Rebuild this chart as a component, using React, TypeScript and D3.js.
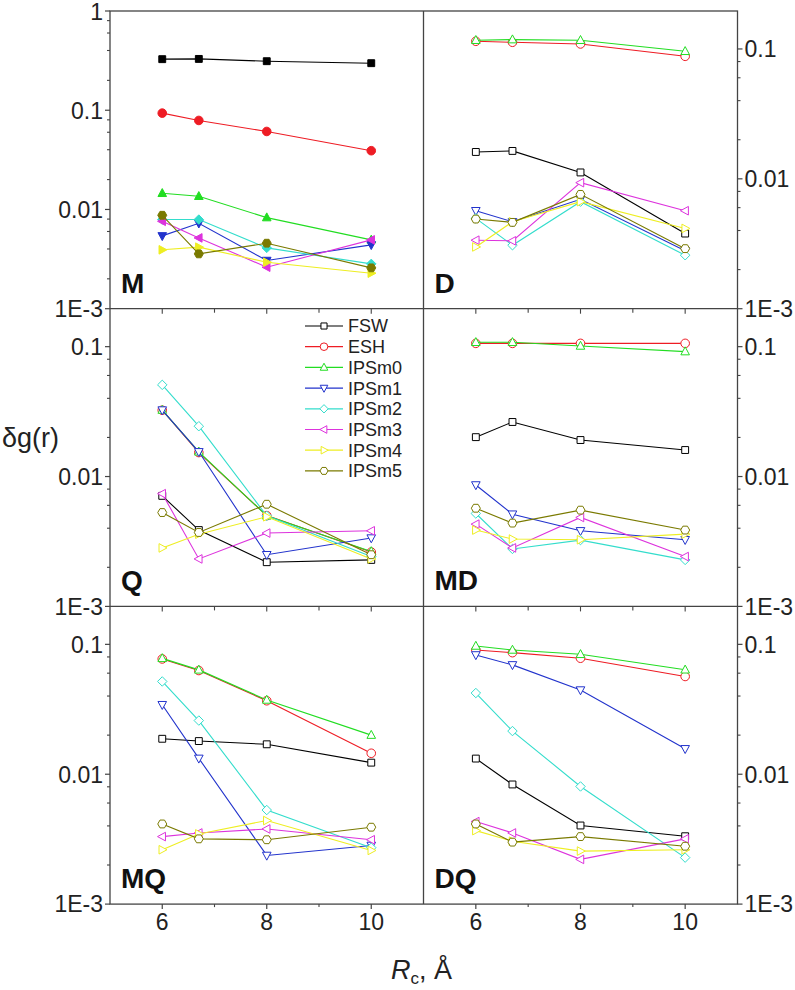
import React from 'react';
import * as d3 from 'd3';

const rc = [6, 6.7, 8, 10];
const seriesNames = ['FSW', 'ESH', 'IPSm0', 'IPSm1', 'IPSm2', 'IPSm3', 'IPSm4', 'IPSm5'];
const seriesColors = ['#000000', '#ee1c24', '#22dd22', '#2233cc', '#33ddcc', '#dd33dd', '#eeee22', '#7a7a00'];
const seriesShapes = ['square', 'circle', 'up', 'down', 'diamond', 'left', 'right', 'hexagon'];

const xTicksMajor = [6, 8, 10];
const xTicksMinor = [7, 9];
const yTicksMajor = [1, 0.1, 0.01, 0.001];
const yTickLabels = ['1', '0.1', '0.01', '1E-3'];

const valuesM = [
  [0.327, 0.329, 0.312, 0.298],
  [0.0935, 0.0789, 0.0611, 0.0391],
  [0.01455, 0.01358, 0.00828, 0.00494],
  [0.00542, 0.00726, 0.00306, 0.0044],
  [0.00791, 0.00791, 0.0041, 0.00283],
  [0.0076, 0.00517, 0.00262, 0.00494],
  [0.00392, 0.00417, 0.00294, 0.00228],
  [0.00874, 0.00357, 0.00457, 0.00258],
];
const valuesD = [
  [0.0161, 0.0164, 0.0112, 0.00379],
  [0.1146, 0.1126, 0.1093, 0.0878],
  [0.1167, 0.118, 0.1167, 0.0959],
  [0.00568, 0.00467, 0.00695, 0.00279],
  [0.00496, 0.00308, 0.00667, 0.00258],
  [0.00337, 0.00333, 0.00934, 0.00568],
  [0.00299, 0.00467, 0.00667, 0.00415],
  [0.0049, 0.00462, 0.00759, 0.0029],
];
const valuesQ = [
  [0.0071, 0.00387, 0.00219, 0.00228],
  [0.0324, 0.0153, 0.005, 0.00262],
  [0.0325, 0.0155, 0.00498, 0.00265],
  [0.0325, 0.0155, 0.0025, 0.00336],
  [0.0508, 0.0244, 0.00498, 0.00242],
  [0.00738, 0.00232, 0.00367, 0.00382],
  [0.00282, 0.0036, 0.0049, 0.00232],
  [0.00528, 0.00371, 0.00612, 0.0025],
];
const valuesMD = [
  [0.0201, 0.0263, 0.0191, 0.016],
  [0.106, 0.106, 0.106, 0.106],
  [0.108, 0.108, 0.1012, 0.0916],
  [0.00861, 0.00513, 0.00382, 0.00326],
  [0.00519, 0.00277, 0.00324, 0.00228],
  [0.0043, 0.00282, 0.00484, 0.00242],
  [0.00387, 0.0033, 0.00326, 0.0036],
  [0.0057, 0.00438, 0.00551, 0.00387],
];
const valuesMQ = [
  [0.01875, 0.018, 0.017, 0.01228],
  [0.0772, 0.0629, 0.0368, 0.0145],
  [0.078, 0.0636, 0.0373, 0.02],
  [0.0343, 0.01325, 0.00237, 0.00283],
  [0.0518, 0.0259, 0.0053, 0.00272],
  [0.00331, 0.00353, 0.00379, 0.00313],
  [0.00262, 0.00347, 0.0044, 0.00259],
  [0.00414, 0.00318, 0.00313, 0.00391],
];
const valuesDQ = [
  [0.0132, 0.00834, 0.00403, 0.00333],
  [0.0905, 0.0863, 0.0782, 0.0566],
  [0.0971, 0.0905, 0.0838, 0.0637],
  [0.0829, 0.0695, 0.0445, 0.0157],
  [0.0422, 0.0215, 0.00805, 0.00228],
  [0.00432, 0.00353, 0.00221, 0.00318],
  [0.00368, 0.00305, 0.00256, 0.00262],
  [0.00414, 0.003, 0.00331, 0.00279],
];

const panels = [
  { label: 'M', values: valuesM, col: 0, row: 0, yMax: 1, filled: true },
  { label: 'D', values: valuesD, col: 1, row: 0, yMax: 0.196, filled: false },
  { label: 'Q', values: valuesQ, col: 0, row: 1, yMax: 0.196, filled: false },
  { label: 'MD', values: valuesMD, col: 1, row: 1, yMax: 0.196, filled: false },
  { label: 'MQ', values: valuesMQ, col: 0, row: 2, yMax: 0.196, filled: false },
  { label: 'DQ', values: valuesDQ, col: 1, row: 2, yMax: 0.196, filled: false },
];

const LEFT = 110;
const MID = 423.5;
const RIGHT = 737.5;
const TOP = 11;
const PH = 297.7;
const AXIS = '#444';
const FONT = 'Liberation Sans, Arial, Helvetica, sans-serif';

function markerPath(shape: string, s: number): string {
  switch (shape) {
    case 'square': return `M${-s * 0.8},${-s * 0.8}h${s * 1.6}v${s * 1.6}h${-s * 1.6}Z`;
    case 'circle': return `M${-s},0a${s},${s} 0 1,0 ${2 * s},0a${s},${s} 0 1,0 ${-2 * s},0Z`;
    case 'up': return `M0,${-s * 1.1}L${s},${s * 0.75}L${-s},${s * 0.75}Z`;
    case 'down': return `M0,${s * 1.1}L${s},${-s * 0.75}L${-s},${-s * 0.75}Z`;
    case 'left': return `M${-s * 1.1},0L${s * 0.75},${-s}L${s * 0.75},${s}Z`;
    case 'right': return `M${s * 1.1},0L${-s * 0.75},${-s}L${-s * 0.75},${s}Z`;
    case 'diamond': return `M0,${-s * 1.1}L${s * 1.1},0L0,${s * 1.1}L${-s * 1.1},0Z`;
    case 'hexagon': {
      const pts = d3.range(6).map((i) => {
        const a = (Math.PI / 3) * i;
        return [Math.cos(a) * s * 1.05, Math.sin(a) * s * 1.05];
      });
      return 'M' + pts.map((p) => p.join(',')).join('L') + 'Z';
    }
  }
  return '';
}

function minorTicks(yMax: number): number[] {
  const out: number[] = [];
  for (let e = -3; e <= 0; e++) {
    for (const m of [2, 4, 6, 8]) {
      const v = m * Math.pow(10, e);
      if (v > 0.001 && v < yMax * 0.999) out.push(v);
    }
  }
  return out;
}

function Panel({ p }: { p: typeof panels[number] }) {
  const x0 = p.col === 0 ? LEFT : MID;
  const x1 = p.col === 0 ? MID : RIGHT;
  const y0 = TOP + p.row * PH;
  const y1 = y0 + PH;
  const x = d3.scaleLinear().domain([5, 11]).range([x0, x1]);
  const y = d3.scaleLog().domain([0.001, p.yMax]).range([y1, y0]);
  const line = d3.line<number>().x((_, i) => x(rc[i])).y((d) => y(d));
  const axisX = p.col === 0 ? x0 : x1;
  const dir = p.col === 0 ? -1 : 1;
  return (
    <g>
      {yTicksMajor.map((v, i) => v <= p.yMax * 1.0001 ? (
        <g key={'ym' + i}>
          <line x1={axisX} x2={axisX + dir * 5} y1={y(v)} y2={y(v)} stroke={AXIS} strokeWidth={1.2} />
          <text x={axisX + dir * 7} y={y(v) + (v === 1 ? 1 : 0)} dy="0.36em" fontSize={23} fontFamily={FONT} fill="#222"
            textAnchor={p.col === 0 ? 'end' : 'start'}>{yTickLabels[i]}</text>
        </g>
      ) : null)}
      {minorTicks(p.yMax).map((v, i) => (
        <line key={'yn' + i} x1={axisX} x2={axisX + dir * 3} y1={y(v)} y2={y(v)} stroke={AXIS} strokeWidth={1.1} />
      ))}
      {p.row > 0 && xTicksMajor.concat(xTicksMinor).map((v, i) => (
        <line key={'xt' + i} x1={x(v)} x2={x(v)} y1={y0} y2={y0 + (i < 3 ? 5 : 4)} stroke={AXIS} strokeWidth={1.1} />
      ))}
      {p.row === 2 && xTicksMajor.map((v, i) => (
        <g key={'xb' + i}>
          <line x1={x(v)} x2={x(v)} y1={y1} y2={y1 + 5} stroke={AXIS} strokeWidth={1.2} />
          <text x={x(v)} y={y1 + 26} fontSize={23} fontFamily={FONT} fill="#222" textAnchor="middle">{v}</text>
        </g>
      ))}
      {p.row === 2 && xTicksMinor.map((v, i) => (
        <line key={'xbn' + i} x1={x(v)} x2={x(v)} y1={y1} y2={y1 + 3} stroke={AXIS} strokeWidth={1.1} />
      ))}
      {p.values.map((vals, si) => (
        <g key={'s' + si}>
          <path d={line(vals) || ''} fill="none" stroke={seriesColors[si]} strokeWidth={1.1} />
          {vals.map((v, k) => (
            <path key={k} d={markerPath(seriesShapes[si], 4.3)} transform={`translate(${x(rc[k])},${y(v)})`}
              fill={p.filled ? seriesColors[si] : '#fff'} stroke={seriesColors[si]} strokeWidth={1} />
          ))}
        </g>
      ))}
      <text x={x0 + 11} y={y1 - 16} fontSize={28} fontWeight="bold" fontFamily={FONT} fill="#111">{p.label}</text>
    </g>
  );
}

function Legend() {
  const lx0 = 305;
  const lx1 = 343;
  const ly = 326;
  const step = 20.7;
  return (
    <g>
      {seriesNames.map((n, i) => (
        <g key={n}>
          <line x1={lx0} x2={lx1} y1={ly + i * step} y2={ly + i * step} stroke={seriesColors[i]} strokeWidth={1.2} />
          <path d={markerPath(seriesShapes[i], 3.8)} transform={`translate(${(lx0 + lx1) / 2},${ly + i * step})`}
            fill="#fff" stroke={seriesColors[i]} strokeWidth={1} />
          <text x={348} y={ly + i * step} dy="0.36em" fontSize={18} fontFamily={FONT} fill="#222">{n}</text>
        </g>
      ))}
    </g>
  );
}

export default function App() {
  const bottom = TOP + 3 * PH;
  return (
    <svg width={795} height={990} style={{ position: 'absolute', left: 0, top: 0, background: '#fff' }}>
      <rect x={0} y={0} width={795} height={990} fill="#fff" />
      {panels.map((p) => <Panel key={p.label} p={p} />)}
      <rect x={LEFT} y={TOP} width={RIGHT - LEFT} height={bottom - TOP} fill="none" stroke={AXIS} strokeWidth={1.3} />
      <line x1={MID} x2={MID} y1={TOP} y2={bottom} stroke={AXIS} strokeWidth={1.3} />
      {[1, 2].map((r) => (
        <line key={r} x1={LEFT} x2={RIGHT} y1={TOP + r * PH} y2={TOP + r * PH} stroke={AXIS} strokeWidth={1.3} />
      ))}
      <Legend />
      <text x={2} y={447} fontSize={27} fontFamily={FONT} fill="#222">δg(r)</text>
      <text x={391} y={979} fontSize={27} fontFamily={FONT} fill="#222">
        <tspan fontStyle="italic">R</tspan>
        <tspan fontSize={17} dy={5}>c</tspan>
        <tspan dy={-5}>, Å</tspan>
      </text>
    </svg>
  );
}
